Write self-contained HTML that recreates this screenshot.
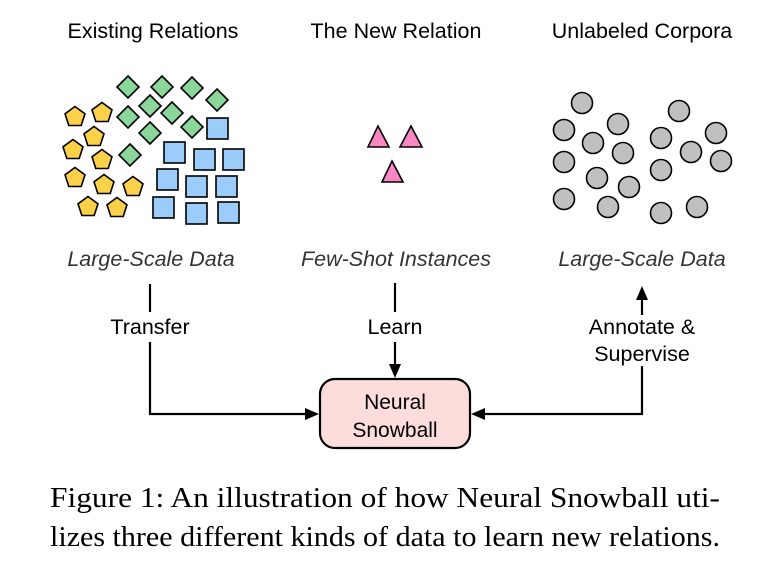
<!DOCTYPE html>
<html><head><style>
html,body{margin:0;padding:0;background:#fff;width:773px;height:562px;overflow:hidden}
svg{display:block}
</style></head><body>
<svg width="773" height="562" viewBox="0 0 773 562" xmlns="http://www.w3.org/2000/svg">
<g font-family="Liberation Sans, Arial, sans-serif" font-size="21.5" fill="#000" text-anchor="middle">
<text x="153" y="38">Existing Relations</text>
<text x="396" y="38">The New Relation</text>
<text x="642" y="38">Unlabeled Corpora</text>
<g font-style="italic" fill="#333">
<text x="151" y="266">Large-Scale Data</text>
<text x="396" y="266">Few-Shot Instances</text>
<text x="642" y="266">Large-Scale Data</text>
</g>
<text x="150" y="334">Transfer</text>
<text x="395" y="334">Learn</text>
<text x="642" y="334">Annotate &amp;</text>
<text x="642" y="361">Supervise</text>
</g>
<g fill="#8bd69a" stroke="#000" stroke-width="1.6">
<polygon points="128,76 139,87 128,98 117,87"/>
<polygon points="162,76 173,87 162,98 151,87"/>
<polygon points="192,77 203,88 192,99 181,88"/>
<polygon points="217,89 228,100 217,111 206,100"/>
<polygon points="150,95 161,106 150,117 139,106"/>
<polygon points="172,102 183,113 172,124 161,113"/>
<polygon points="128,106 139,117 128,128 117,117"/>
<polygon points="192,116 203,127 192,138 181,127"/>
<polygon points="150,122 161,133 150,144 139,133"/>
<polygon points="130,144 141,155 130,166 119,155"/>
</g>
<g fill="#fcd14a" stroke="#000" stroke-width="1.6">
<g transform="translate(75,117)"><polygon id="pg" points="0,-10.5 10,-3.2 6.2,8.5 -6.2,8.5 -10,-3.2"/></g>
<use href="#pg" transform="translate(102,113)"/>
<use href="#pg" transform="translate(94,137)"/>
<use href="#pg" transform="translate(73,150)"/>
<use href="#pg" transform="translate(102,160)"/>
<use href="#pg" transform="translate(75,178)"/>
<use href="#pg" transform="translate(104,185)"/>
<use href="#pg" transform="translate(133,187)"/>
<use href="#pg" transform="translate(88,207)"/>
<use href="#pg" transform="translate(117,208)"/>
</g>
<g fill="#9ccdfa" stroke="#000" stroke-width="1.6">
<rect x="207" y="118" width="21" height="21"/>
<rect x="164" y="142" width="21" height="21"/>
<rect x="194" y="149" width="21" height="21"/>
<rect x="223" y="149" width="21" height="21"/>
<rect x="157" y="169" width="21" height="21"/>
<rect x="186" y="176" width="21" height="21"/>
<rect x="216" y="176" width="21" height="21"/>
<rect x="153" y="197" width="21" height="21"/>
<rect x="186" y="203" width="21" height="21"/>
<rect x="218" y="202" width="21" height="21"/>
</g>
<g fill="#f987c3" stroke="#000" stroke-width="1.6">
<polygon points="378,126 389,147 368,147"/>
<polygon points="411,126 422,147 400,147"/>
<polygon points="392,161 403,182 382,182"/>
</g>
<g fill="#c2bfbf" stroke="#000" stroke-width="1.6">
<circle cx="582" cy="103" r="10.5"/><circle cx="564" cy="130" r="10.5"/>
<circle cx="618" cy="124" r="10.5"/><circle cx="593" cy="143" r="10.5"/>
<circle cx="623" cy="153" r="10.5"/><circle cx="564" cy="162" r="10.5"/>
<circle cx="597" cy="178" r="10.5"/><circle cx="629" cy="187" r="10.5"/>
<circle cx="564" cy="199" r="10.5"/><circle cx="608" cy="207" r="10.5"/>
<circle cx="679" cy="111" r="10.5"/><circle cx="661" cy="138" r="10.5"/>
<circle cx="716" cy="133" r="10.5"/><circle cx="691" cy="152" r="10.5"/>
<circle cx="721" cy="161" r="10.5"/><circle cx="661" cy="170" r="10.5"/>
<circle cx="661" cy="213" r="10.5"/><circle cx="697" cy="207" r="10.5"/>
</g>
<g stroke="#000" stroke-width="2.2" fill="none">
<line x1="150" y1="284" x2="150" y2="312"/>
<polyline points="150,342 150,414 306,414"/>
<line x1="395" y1="283" x2="395" y2="312"/>
<line x1="395" y1="342" x2="395" y2="366"/>
<polyline points="642,366 642,414 484,414"/>
<line x1="642" y1="298" x2="642" y2="315"/>
</g>
<g fill="#000">
<polygon points="319,414 305,408 305,420"/>
<polygon points="395,378 389,364 401,364"/>
<polygon points="471,414 485,408 485,420"/>
<polygon points="642,286 636,300 648,300"/>
</g>
<rect x="320" y="379" width="150" height="69" rx="15" fill="#fddcdc" stroke="#000" stroke-width="2.2"/>
<g font-family="Liberation Sans, Arial, sans-serif" font-size="21" text-anchor="middle">
<text x="395" y="409">Neural</text>
<text x="395" y="437">Snowball</text>
</g>
<g font-family="Liberation Serif, Times New Roman, serif" font-size="28" fill="#000">
<text x="50" y="507" textLength="670" lengthAdjust="spacingAndGlyphs">Figure 1:  An illustration of how Neural Snowball uti-</text>
<text x="50" y="546" textLength="670" lengthAdjust="spacingAndGlyphs">lizes three different kinds of data to learn new relations.</text>
</g>
</svg>
</body></html>
